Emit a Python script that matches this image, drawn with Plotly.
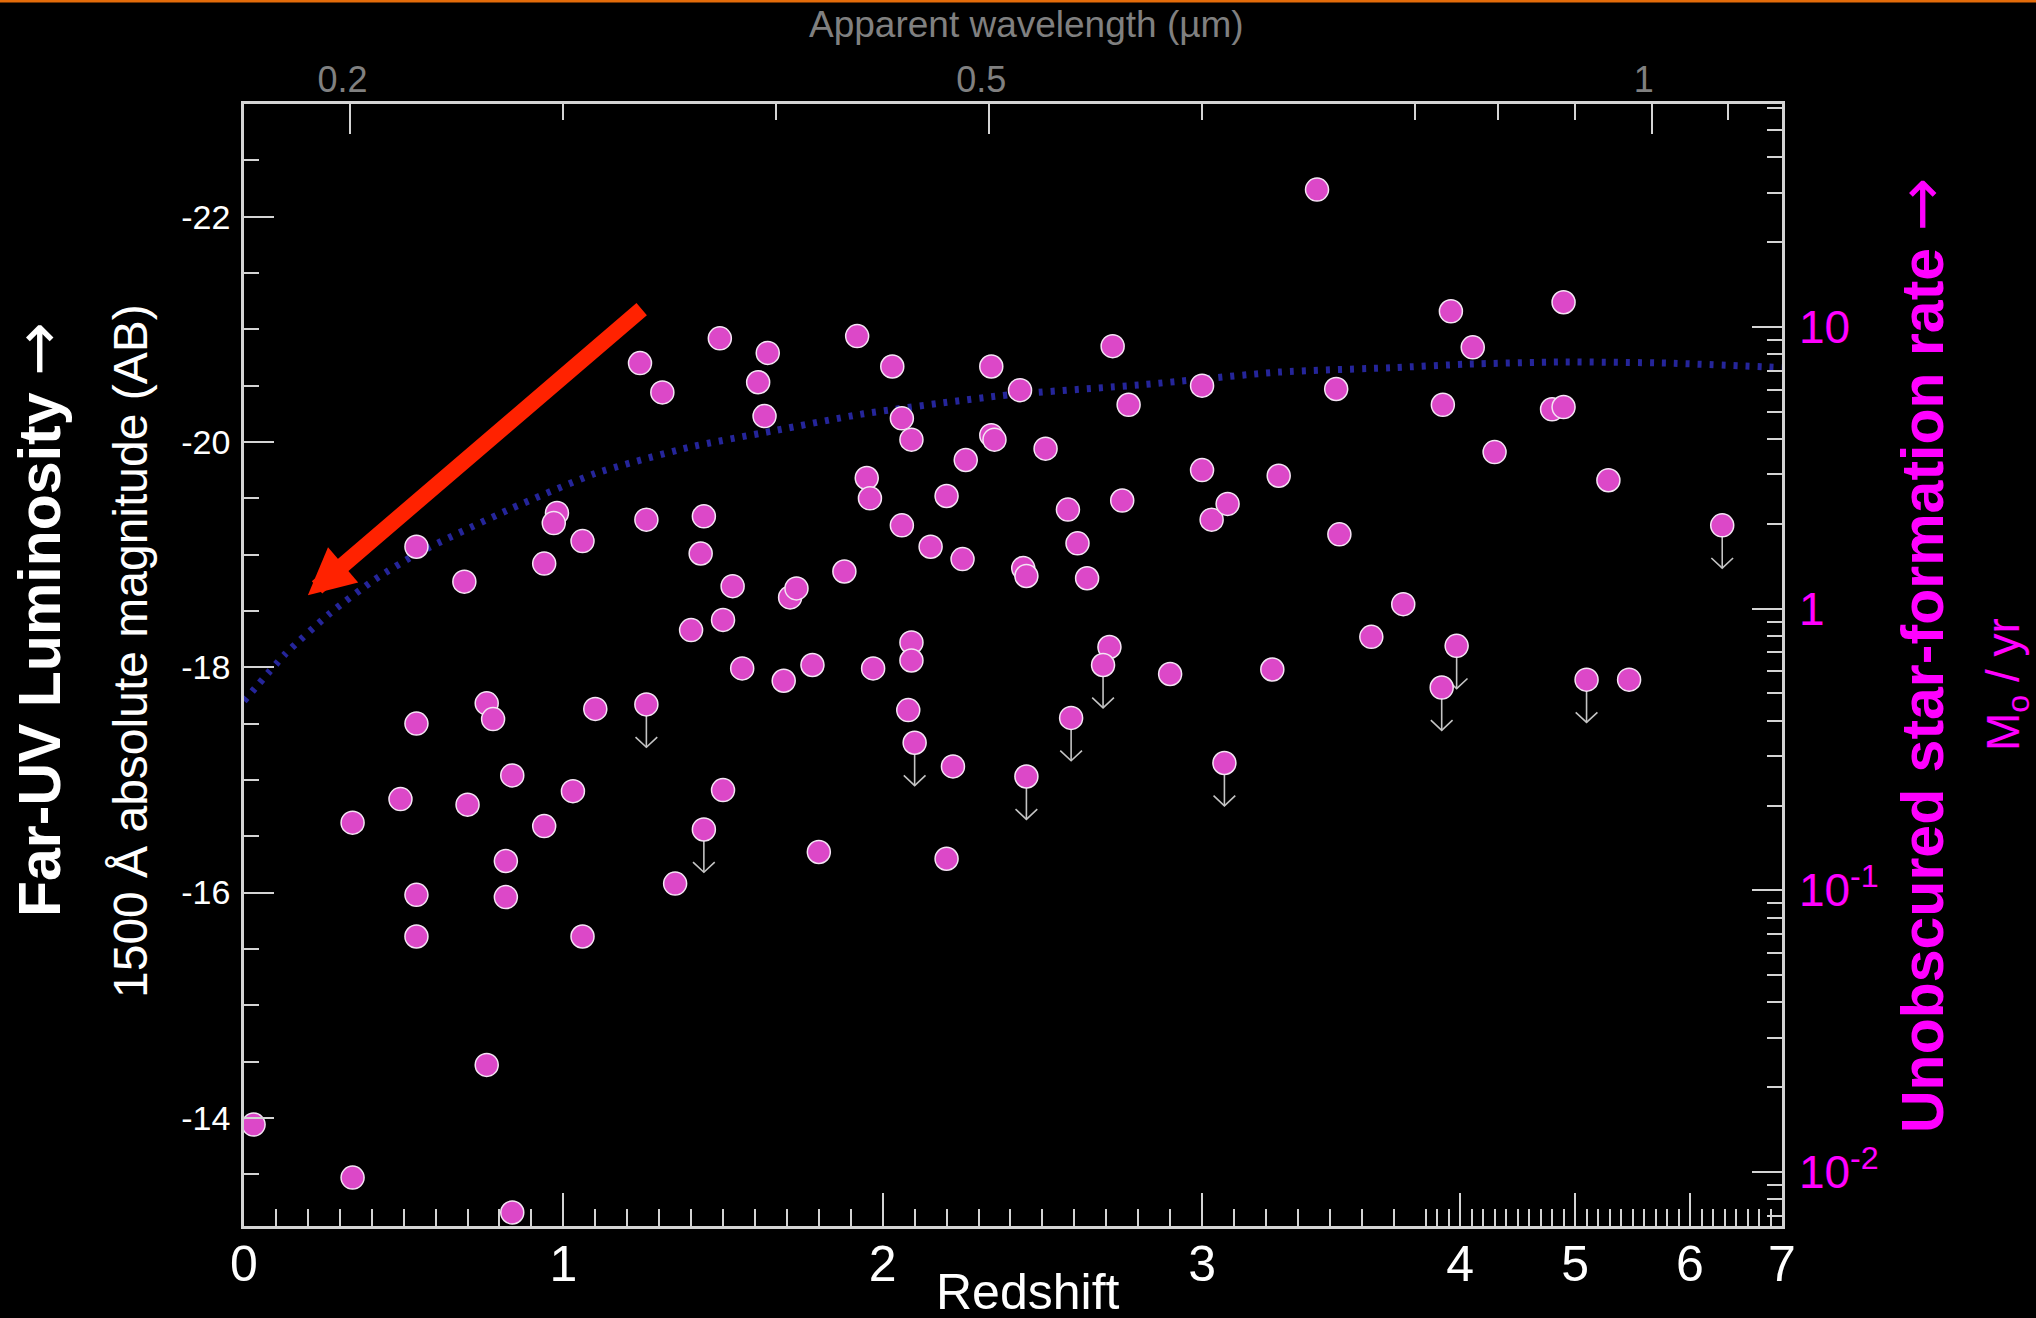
import numpy as np
import plotly.graph_objects as go

# ---------------- data ----------------
# detected galaxies: redshift, 1500A absolute magnitude (AB)
z_det = [0.03, 0.34, 0.34, 0.49, 0.54, 0.54, 0.54, 0.54, 0.69, 0.70,
         0.76, 0.78, 0.76, 0.82, 0.82, 0.84, 0.84, 0.94, 0.94, 0.98,
         0.97, 1.03, 1.06, 1.06, 1.10, 1.24, 1.26, 1.31, 1.35, 1.40,
         1.44, 1.43, 1.49, 1.50, 1.50, 1.53, 1.56, 1.61, 1.64, 1.63,
         1.69, 1.71, 1.73, 1.78, 1.80, 1.88, 1.92, 1.95, 1.96, 1.97,
         2.03, 2.06, 2.06, 2.09, 2.09, 2.09, 2.08, 2.15, 2.20, 2.22,
         2.20, 2.25, 2.26, 2.34, 2.35, 2.34, 2.43, 2.44, 2.45, 2.51,
         2.58, 2.61, 2.64, 2.71, 2.72, 2.75, 2.77, 2.90, 3.00, 3.00,
         3.03, 3.08, 3.22, 3.24, 3.36, 3.42, 3.43, 3.53, 3.63, 3.85,
         3.92, 4.11, 4.30, 4.80, 4.90, 4.90, 5.29, 5.47]
mag_det = [-13.94, -16.62, -13.47, -16.83, -19.07, -17.50, -15.98, -15.61, -18.76, -16.78,
           -17.68, -17.54, -14.47, -16.28, -15.96, -17.04, -13.16, -18.92, -16.59, -19.37,
           -19.28, -16.90, -19.12, -15.61, -17.63, -20.70, -19.31, -20.44, -16.08, -18.33,
           -19.34, -19.01, -20.92, -18.42, -16.91, -18.72, -17.99, -20.53, -20.79, -20.23,
           -17.88, -18.62, -18.70, -18.02, -16.36, -18.85, -20.94, -19.68, -19.50, -17.99,
           -20.67, -19.26, -20.21, -20.02, -18.22, -18.06, -17.62, -19.07, -19.52, -17.12,
           -16.30, -18.96, -19.84, -20.06, -20.02, -20.67, -20.46, -18.88, -18.81, -19.94,
           -19.40, -19.10, -18.79, -18.18, -20.85, -19.48, -20.33, -17.94, -20.50, -19.75,
           -19.31, -19.45, -17.98, -19.70, -22.24, -20.47, -19.18, -18.27, -18.56, -20.33,
           -21.16, -20.84, -19.91, -20.29, -21.24, -20.31, -19.66, -17.89]

# upper limits
z_lim = [1.26, 1.44, 2.10, 2.45, 2.59, 2.69, 3.07, 3.84, 3.97, 5.10, 6.28]
mag_lim = [-17.67, -16.56, -17.33, -17.03, -17.55, -18.02, -17.15, -17.82, -18.19, -17.89, -19.26]

# detection-limit curve (dotted)
z_curve = [0.0, 0.13, 0.27, 0.41, 0.55, 0.83, 1.10, 1.39, 1.66, 1.94, 2.17, 2.40,
           2.82, 3.24, 3.60, 4.05, 4.90, 5.80, 6.80]
mag_curve = [-17.70, -18.12, -18.48, -18.78, -19.02, -19.40, -19.72, -19.95, -20.10, -20.25, -20.34, -20.42,
             -20.51, -20.62, -20.66, -20.69, -20.71, -20.70, -20.66]

# axis ticks
z_ticks = [0, 1, 2, 3, 4, 5, 6, 6.8]
z_tick_labels = ["0", "1", "2", "3", "4", "5", "6", "7"]
z_max = 6.8
wl_ticks = [0.2, 0.5, 1.0]
wl_tick_labels = ["0.2", "0.5", "1"]
wl_minor = [0.3, 0.4, 0.6, 0.7, 0.8, 0.9, 1.1]
mag_ticks = [-22, -20, -18, -16, -14]
mag_tick_labels = ["-22", "-20", "-18", "-16", "-14"]
sfr_ticks = [0.01, 0.1, 1, 10]
sfr_tick_labels = ["10<sup>-2</sup>", "10<sup>-1</sup>", "1", "10"]

# red arrow (annotation): tail and head in (redshift, magnitude)
arrow_tail = (1.25, -21.19)
arrow_head = (0.20, -18.64)

REST_UM = 0.15          # 1500 A in micron
MAG_SFR1 = -18.52       # magnitude for 1 Msun/yr
MAG_RANGE = [-13.04, -23.0]
Z_BREAK, Z_SLOPE = 3.7, 0.36


def zaxis(z):
    z = np.asarray(z, dtype=float)
    return np.where(z <= Z_BREAK, z, Z_BREAK + (z - Z_BREAK) * Z_SLOPE)


def mag_to_logsfr(m):
    return -0.4 * (np.asarray(m, dtype=float) - MAG_SFR1)


NARROW = "Liberation Sans Narrow, Arial Narrow, Liberation Sans, Arial, sans-serif"
REG = "Liberation Sans, Arial, Helvetica, sans-serif"
AXC = "#d4d4d4"
MAGENTA = "#ff00ff"

fig = go.Figure()

# dotted curve
fig.add_trace(go.Scatter(
    x=zaxis(z_curve), y=mag_curve, mode="lines",
    line=dict(color="#25259a", width=7, dash="4px,8px", shape="spline", smoothing=0.6),
    hoverinfo="skip", showlegend=False))

# upper-limit arrows
ax_x, ax_y = [], []
L, H, W = 0.38, 0.09, 0.034
for zz, mm in zip(zaxis(z_lim), mag_lim):
    ax_x += [zz, zz, None, zz - W, zz, zz + W, None]
    ax_y += [mm, mm + L, None, mm + L - H, mm + L, mm + L - H, None]
fig.add_trace(go.Scatter(x=ax_x, y=ax_y, mode="lines",
                         line=dict(color="#c4c4c4", width=1.6),
                         hoverinfo="skip", showlegend=False))

marker = dict(size=23, color="#dc48c8", line=dict(color="#f4e4f4", width=1.5))
fig.add_trace(go.Scatter(x=zaxis(z_det), y=mag_det, mode="markers",
                         marker=marker, showlegend=False))
fig.add_trace(go.Scatter(x=zaxis(z_lim), y=mag_lim, mode="markers",
                         marker=marker, showlegend=False))

# invisible trace registering the top (wavelength) and right (SFR) axes
fig.add_trace(go.Scatter(x=zaxis(z_curve), y=10 ** mag_to_logsfr(mag_curve),
                         xaxis="x2", yaxis="y2", mode="lines", opacity=0,
                         line=dict(width=0), hoverinfo="skip", showlegend=False))

x_range = [0, float(zaxis(z_max))]
z_minor = [round(v, 1) for v in np.arange(0.1, 6.75, 0.1) if abs(v - round(v)) > 1e-6]
mag_minor = [v for v in np.arange(-22.5, -13.0, 0.5) if v not in mag_ticks]
sfr_minor = [k * 10.0 ** d for d in range(-3, 2) for k in range(2, 10)]

fig.update_layout(
    width=2036, height=1318,
    paper_bgcolor="black", plot_bgcolor="black",
    margin=dict(l=244, r=254, t=104, b=92),
    showlegend=False,
    xaxis=dict(range=x_range, tickmode="array", tickvals=zaxis(z_ticks), ticktext=z_tick_labels,
               ticks="inside", ticklen=33, tickwidth=2, tickcolor=AXC,
               minor=dict(tickmode="array", tickvals=zaxis(z_minor), ticks="inside",
                          ticklen=17, tickwidth=2, tickcolor=AXC),
               showline=True, linecolor=AXC, linewidth=2.5, showgrid=False, zeroline=False,
               tickfont=dict(family=NARROW, size=50, color="white"), ticklabelstandoff=-8),
    xaxis2=dict(range=x_range, overlaying="x", side="top", anchor="y",
                tickmode="array", tickvals=zaxis(np.array(wl_ticks) / REST_UM - 1),
                ticktext=wl_tick_labels,
                ticks="inside", ticklen=30, tickwidth=2, tickcolor=AXC,
                minor=dict(tickmode="array", tickvals=zaxis(np.array(wl_minor) / REST_UM - 1),
                           ticks="inside", ticklen=16, tickwidth=2, tickcolor=AXC),
                showline=True, linecolor=AXC, linewidth=2.5, showgrid=False, zeroline=False,
                tickfont=dict(family=NARROW, size=36, color="#808080"),
                ticklabelstandoff=-5, ticklabelshift=-8),
    yaxis=dict(range=MAG_RANGE, tickmode="array", tickvals=mag_ticks, ticktext=mag_tick_labels,
               ticks="inside", ticklen=30, tickwidth=2, tickcolor=AXC,
               minor=dict(tickmode="array", tickvals=mag_minor, ticks="inside",
                          ticklen=15, tickwidth=2, tickcolor=AXC),
               showline=True, linecolor=AXC, linewidth=2.5, showgrid=False, zeroline=False,
               tickfont=dict(family=REG, size=34, color="white"), ticklabelstandoff=4),
    yaxis2=dict(type="log", overlaying="y", side="right", anchor="x2",
                range=[float(mag_to_logsfr(MAG_RANGE[0])), float(mag_to_logsfr(MAG_RANGE[1]))],
                tickmode="array", tickvals=sfr_ticks, ticktext=sfr_tick_labels,
                ticks="inside", ticklen=30, tickwidth=2, tickcolor=AXC,
                minor=dict(tickmode="array", tickvals=sfr_minor, ticks="inside",
                           ticklen=15, tickwidth=2, tickcolor=AXC),
                showline=True, linecolor=AXC, linewidth=2.5, showgrid=False, zeroline=False,
                tickfont=dict(family=REG, size=46, color=MAGENTA), ticklabelstandoff=5),
)

# red arrow
fig.add_annotation(x=float(zaxis(arrow_head[0])), y=arrow_head[1],
                   ax=float(zaxis(arrow_tail[0])), ay=arrow_tail[1],
                   xref="x", yref="y", axref="x", ayref="y", text="",
                   showarrow=True, arrowhead=2, arrowsize=0.58, arrowwidth=16,
                   arrowcolor="#ff2200")

def px_x(p):
    return (p - 244) / 1538.0

def px_y(p):
    return (1226 - p) / 1122.0

ARROW = '<span style="font-family:DejaVu Sans;font-weight:normal;font-size:64px">→</span>'
texts = [
    dict(text="Redshift", x=px_x(1028), y=px_y(1292), size=50, color="white", fam=NARROW, angle=0),
    dict(text="Apparent wavelength (µm)", x=px_x(1026), y=px_y(24), size=37, color="#808080", fam=NARROW, angle=0),
    dict(text="<b>Far-UV Luminosity</b> " + ARROW, x=px_x(38), y=px_y(620), size=59, color="white", fam=NARROW, angle=-90),
    dict(text="1500 Å absolute magnitude (AB)", x=px_x(130), y=px_y(651), size=48, color="white", fam=NARROW, angle=-90),
    dict(text="<b>Unobscured star-formation rate</b> " + ARROW, x=px_x(1921), y=px_y(656), size=59, color=MAGENTA, fam=NARROW, angle=-90),
    dict(text="M<sub>o</sub> / yr", x=px_x(2006), y=px_y(685), size=46, color=MAGENTA, fam=NARROW, angle=-90),
]
for t in texts:
    fig.add_annotation(text=t["text"], x=t["x"], y=t["y"], xref="paper", yref="paper",
                       showarrow=False, xanchor="center", yanchor="middle",
                       textangle=t["angle"], font=dict(family=t["fam"], size=t["size"], color=t["color"]))

# orange line at the very top
fig.add_shape(type="line", xref="paper", yref="paper",
              x0=px_x(0), x1=px_x(2036), y0=px_y(1), y1=px_y(1),
              line=dict(color="#e46c0a", width=3))

fig.write_html("out.html")
